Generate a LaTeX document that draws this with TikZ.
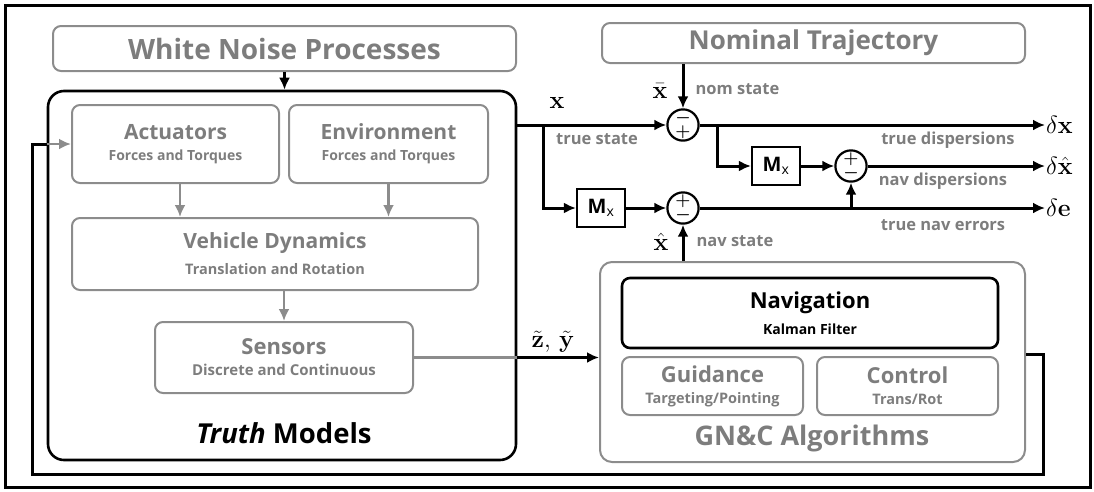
\documentclass[tikz,border=0pt]{standalone}
\usepackage[no-math]{fontspec}
\setmainfont{Open Sans}
\usepackage{amsmath,bm}
\usepackage{xcolor}
\usetikzlibrary{positioning,arrows.meta}

\definecolor{txtgray}{RGB}{125,125,125}
\definecolor{boxgray}{RGB}{140,140,140}

% title and subtitle of a block
\newcommand{\blocktext}[4]{{\fontsize{#3}{#3}\selectfont #1}\\[9pt]{\fontsize{#4}{#4}\selectfont #2}}
\newcommand{\sumsigns}[2]{$\bm{#1}$\\$\bm{#2}$}
\newcommand{\Mx}{\textbf{M}\textsubscript{x}}

\begin{document}
\begin{tikzpicture}[x=1pt,y=-1pt,
    graybox/.style={rectangle,rounded corners=8pt,draw=boxgray,line width=2pt,text=txtgray,align=center,font=\bfseries},
    blackbox/.style={rectangle,rounded corners=8pt,draw=black,line width=2.6pt,align=center,font=\bfseries},
    mxbox/.style={rectangle,draw=black,line width=2.2pt,minimum width=48pt,minimum height=38pt,inner sep=0pt,font=\fontsize{20}{20}\selectfont},
    sumnode/.style={circle,draw=black,line width=2.2pt,minimum size=24pt,inner sep=0pt,align=center,font=\fontsize{19}{10.5}\selectfont},
    arrow/.style={-{Latex[length=12pt,width=11pt]},line width=3pt,black},
    grayarrow/.style={-{Latex[length=12pt,width=11pt]},line width=2.4pt,boxgray},
    line/.style={line width=3pt,black},
    grayline/.style={line width=2.4pt,boxgray},
    lbl/.style={text=txtgray,font=\bfseries\fontsize{16.5}{16.5}\selectfont},
    mathlbl/.style={font=\fontsize{25}{25}\selectfont}
]
\useasboundingbox (0,0) rectangle (1094,491);
\draw[line] (5,5) rectangle (1090,487);

% top sources
\node[graybox,minimum width=463pt,minimum height=45pt,font=\bfseries\fontsize{28}{28}\selectfont] (wnp) at (284.5,48.5) {White Noise Processes};
\node[graybox,minimum width=423pt,minimum height=40pt,font=\bfseries\fontsize{26}{26}\selectfont] (nom) at (813.5,43) {Nominal Trajectory};

% truth models
\node[blackbox,rounded corners=16pt,minimum width=468pt,minimum height=369pt] (truth) at (282,275.5) {};
\node[graybox,minimum width=207pt,minimum height=78pt] (act) at (175.5,144) {\blocktext{Actuators}{Forces and Torques}{21}{14}};
\node[graybox,minimum width=199pt,minimum height=78pt,right=8pt of act] (env) {\blocktext{Environment}{Forces and Torques}{21}{14}};
\node[graybox,minimum width=406pt,minimum height=72pt] (vd) at (275,254) {\blocktext{Vehicle Dynamics}{Translation and Rotation}{21}{14.5}};
\node[graybox,minimum width=258pt,minimum height=71pt] (sens) at (284,357.5) {\blocktext{Sensors}{Discrete and Continuous}{22}{15}};
\node[font=\bfseries\fontsize{27.5}{27.5}\selectfont] (truthlbl) at (284,433) {\textit{Truth} Models};

% GN&C
\node[graybox,rounded corners=12pt,minimum width=425pt,minimum height=200pt] (gnc) at (812.5,362) {};
\node[blackbox,minimum width=376pt,minimum height=70pt] (nav) at (810,313) {\blocktext{Navigation}{Kalman Filter}{22}{14}};
\node[graybox,minimum width=181pt,minimum height=58pt] (guid) at (712.5,386) {\blocktext{Guidance}{Targeting/Pointing}{22}{14.5}};
\node[graybox,minimum width=181pt,minimum height=58pt] (ctrl) at (907.5,386) {\blocktext{Control}{Trans/Rot}{22}{14.5}};
\node[text=txtgray,font=\bfseries\fontsize{27}{27}\selectfont] (gnclbl) at (812,438) {GN\&C Algorithms};

% dispersion blocks
\node[sumnode] (s1) at (683,125) {\sumsigns{-}{+}};
\node[sumnode] (s2) at (851,166) {\sumsigns{+}{-}};
\node[sumnode] (s3) at (683,208) {\sumsigns{+}{-}};
\node[mxbox] (mxa) at (776,166) {\Mx};
\node[mxbox] (mxb) at (601,208) {\Mx};

\coordinate (b1) at (543,125);
\coordinate (b2) at (717,125);
\coordinate (b3) at (s2 |- s3);
\coordinate (dx) at (1045,125);
\coordinate (dxh) at (1045,166);
\coordinate (de) at (1045,208);
\coordinate (fb1) at (1043,354);
\coordinate (fb2) at (32,474);

% signals
\draw[arrow] (wnp.south) -- (wnp.south |- truth.north);
\draw[arrow] (nom.south -| s1) -- (s1);
\draw[arrow] (truth.east |- s1) -- (s1);
\draw[arrow] (b1) |- (mxb);
\draw[arrow] (mxb) -- (s3);
\draw[arrow] (s1) -- (dx);
\draw[arrow] (b2) |- (mxa);
\draw[arrow] (mxa) -- (s2);
\draw[arrow] (s2) -- (dxh);
\draw[arrow] (s3) -- (de);
\draw[arrow] (b3) -- (s2);
\draw[arrow] (gnc.north -| s3) -- (s3);

\draw[grayarrow] (act.south -| 180,0) -- (vd.north -| 180,0);
\draw[grayarrow] (env.south) -- (env.south |- vd.north);
\draw[grayarrow] (vd.south -| sens.north) -- (sens.north);

\draw[grayline] (sens.east) -- (sens.east -| truth.east);
\draw[arrow] (sens.east -| truth.east) -- (sens.east -| gnc.west);

% feedback
\draw[line] (gnc.east |- fb1) -- (fb1) |- (fb2) |- (truth.west |- act.west);
\draw[grayarrow] (truth.west |- act.west) -- (act.west);

% labels
\node[mathlbl] (xlbl) at (557,103) {$\mathbf{x}$};
\node[lbl] (truestate) at (597,139) {true state};
\node[mathlbl] (xbar) at (660,91) {$\bar{\mathbf{x}}$};
\node[lbl,anchor=west] (nomstate) at (692,89) {nom state};
\node[mathlbl] (xhat) at (661,242) {$\hat{\mathbf{x}}$};
\node[lbl,anchor=west] (navstate) at (693,241) {nav state};
\node[mathlbl] (zy) at (553,342) {$\tilde{\mathbf{z}},\,\tilde{\mathbf{y}}$};
\node[lbl] (truedisp) at (948,140) {true dispersions};
\node[lbl] (navdisp) at (943,181) {nav dispersions};
\node[lbl] (truenav) at (943,225) {true nav errors};
\node[mathlbl,anchor=west,inner sep=1pt] (dxlbl) at (dx) {$\delta\mathbf{x}$};
\node[mathlbl,anchor=west,inner sep=1pt] (dxhlbl) at (dxh) {$\delta\hat{\mathbf{x}}$};
\node[mathlbl,anchor=west,inner sep=1pt] (delbl) at (de) {$\delta\mathbf{e}$};

\end{tikzpicture}
\end{document}
